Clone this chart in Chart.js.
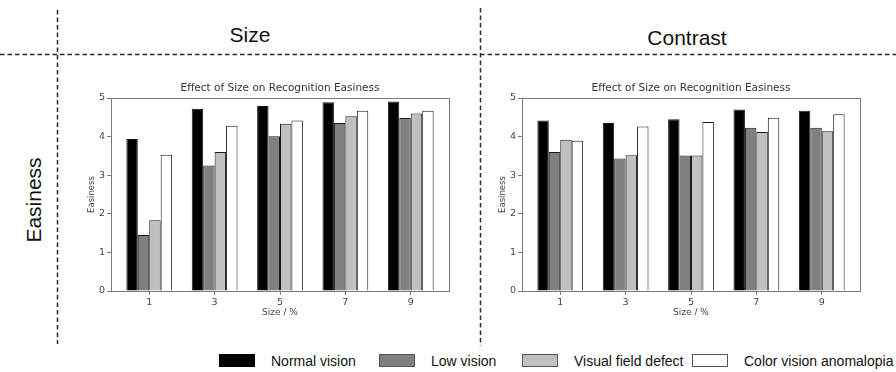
<!DOCTYPE html>
<html>
<head>
<meta charset="utf-8">
<script src="https://cdn.jsdelivr.net/npm/chart.js@4"></script>
<style>
  body { margin: 0; background: #fff; }
  #page { position: relative; width: 896px; height: 372px; overflow: hidden; font-family: "Liberation Sans", Arial, sans-serif; }
  .head { position: absolute; font-size: 21px; color: #111; transform: translate(-50%, -50%); white-space: nowrap; }
  canvas { position: absolute; }
  #lines { position: absolute; left: 0; top: 0; }
  .leg { position: absolute; top: 354px; height: 13px; display: flex; align-items: center; font-size: 14px; color: #111; white-space: nowrap; }
  .sw { width: 34px; height: 11px; border: 1px solid #555; margin-right: 16px; }
</style>
</head>
<body>
<div id="page">
  <svg id="lines" width="896" height="372">
    <g stroke="#2a2a2a" stroke-width="1.5" stroke-dasharray="4.5 3" fill="none">
      <line x1="0" y1="54.5" x2="896" y2="54.5"/>
      <line x1="57.5" y1="10" x2="57.5" y2="344"/>
      <line x1="480.5" y1="8" x2="480.5" y2="346"/>
    </g>
  </svg>
  <div class="head" style="left:250px; top:35px;">Size</div>
  <div class="head" style="left:687px; top:38px;">Contrast</div>
  <div class="head" style="left:34px; top:200px; transform: translate(-50%, -50%) rotate(-90deg);">Easiness</div>
  <canvas id="sizeChart" width="371" height="247" style="left:84px; top:74px;"></canvas>
  <canvas id="contrastChart" width="371" height="247" style="left:495px; top:74px;"></canvas>
  <div id="legend"></div>
</div>
<script>
const sizes = [1, 3, 5, 7, 9];
const seriesNames = ['Normal vision', 'Low vision', 'Visual field defect', 'Color vision anomalopia'];
const seriesColors = ['#000000', '#808080', '#c0c0c0', '#ffffff'];
const panelTitle = 'Effect of Size on Recognition Easiness';

// Size panel
const sizeNormal = [3.94, 4.72, 4.79, 4.89, 4.91];
const sizeLow = [1.45, 3.25, 4.01, 4.35, 4.48];
const sizeField = [1.83, 3.60, 4.33, 4.53, 4.60];
const sizeColor = [3.53, 4.28, 4.42, 4.67, 4.67];

// Contrast panel
const contrastNormal = [4.42, 4.35, 4.45, 4.70, 4.67];
const contrastLow = [3.60, 3.43, 3.51, 4.23, 4.23];
const contrastField = [3.92, 3.52, 3.51, 4.12, 4.14];
const contrastColor = [3.89, 4.26, 4.38, 4.49, 4.58];

const yTicks = [0, 1, 2, 3, 4, 5];
const legendLeft = [219, 379, 522, 692];

// matplotlib-style box round the plot area, title centred over the axes
const frame = {
    id: 'frame',
    afterDatasetsDraw(chart) {
        const a = chart.chartArea;
        const c = chart.ctx;
        c.save();
        c.strokeStyle = '#7a7a7a';
        c.lineWidth = 1;
        c.strokeRect(Math.round(a.left) + 0.5, Math.round(a.top) + 0.5,
            Math.round(a.right - a.left), Math.round(a.bottom - a.top));
        c.fillStyle = '#333';
        c.font = '10.5px "DejaVu Sans"';
        c.textAlign = 'center';
        c.textBaseline = 'middle';
        c.fillText(panelTitle, (a.left + a.right) / 2, a.top - 10);
        c.restore();
    }
};

function makeChart(id, values) {
    const datasets = values.map((vals, i) => ({
        label: seriesNames[i],
        data: vals.map((v, j) => ({ x: sizes[j], y: v })),
        backgroundColor: seriesColors[i],
        borderColor: '#1a1a1a',
        borderWidth: 1,
        borderSkipped: 'bottom',
        categoryPercentage: 0.7,
        barPercentage: 1.0
    }));

    return new Chart(document.getElementById(id), {
        type: 'bar',
        data: { datasets: datasets },
        plugins: [frame],
        options: {
            responsive: false,
            animation: false,
            layout: { padding: { left: 0, right: 6, top: 24, bottom: 0 } },
            plugins: {
                legend: { display: false },
                tooltip: { enabled: false },
                title: { display: false }
            },
            scales: {
                x: {
                    type: 'linear',
                    offset: false,
                    min: -0.17,
                    max: 10.17,
                    afterBuildTicks: (scale) => { scale.ticks = sizes.map(v => ({ value: v })); },
                    afterFit: (scale) => { scale.height = 30; },
                    grid: { display: true, offset: false, drawOnChartArea: false, drawTicks: true, tickLength: 4, color: '#7a7a7a' },
                    border: { display: true, color: '#7a7a7a' },
                    ticks: { color: '#444', padding: 2, maxRotation: 0, font: { family: 'DejaVu Sans', size: 9.5 } },
                    title: {
                        display: true,
                        text: 'Size / %',
                        color: '#444',
                        font: { family: 'DejaVu Sans', size: 9 },
                        padding: { top: 0, bottom: 3 }
                    }
                },
                y: {
                    min: 0,
                    max: 5,
                    afterBuildTicks: (scale) => { scale.ticks = yTicks.map(v => ({ value: v })); },
                    afterFit: (scale) => { scale.width = 27; },
                    grid: { display: true, drawOnChartArea: false, drawTicks: true, tickLength: 4, color: '#7a7a7a' },
                    border: { display: true, color: '#7a7a7a' },
                    ticks: { color: '#444', padding: 2, font: { family: 'DejaVu Sans', size: 9.5 } },
                    title: {
                        display: true,
                        text: 'Easiness',
                        color: '#444',
                        font: { family: 'DejaVu Sans', size: 8.5 },
                        padding: { top: 3, bottom: 0 }
                    }
                }
            }
        }
    });
}

makeChart('sizeChart', [sizeNormal, sizeLow, sizeField, sizeColor]);
makeChart('contrastChart', [contrastNormal, contrastLow, contrastField, contrastColor]);

const legend = document.getElementById('legend');
seriesNames.forEach((name, i) => {
    const item = document.createElement('div');
    item.className = 'leg';
    item.style.left = legendLeft[i] + 'px';
    const sw = document.createElement('div');
    sw.className = 'sw';
    sw.style.background = seriesColors[i];
    if (i === 0) sw.style.borderColor = '#000';
    item.appendChild(sw);
    item.appendChild(document.createTextNode(name));
    legend.appendChild(item);
});
</script>
</body>
</html>
